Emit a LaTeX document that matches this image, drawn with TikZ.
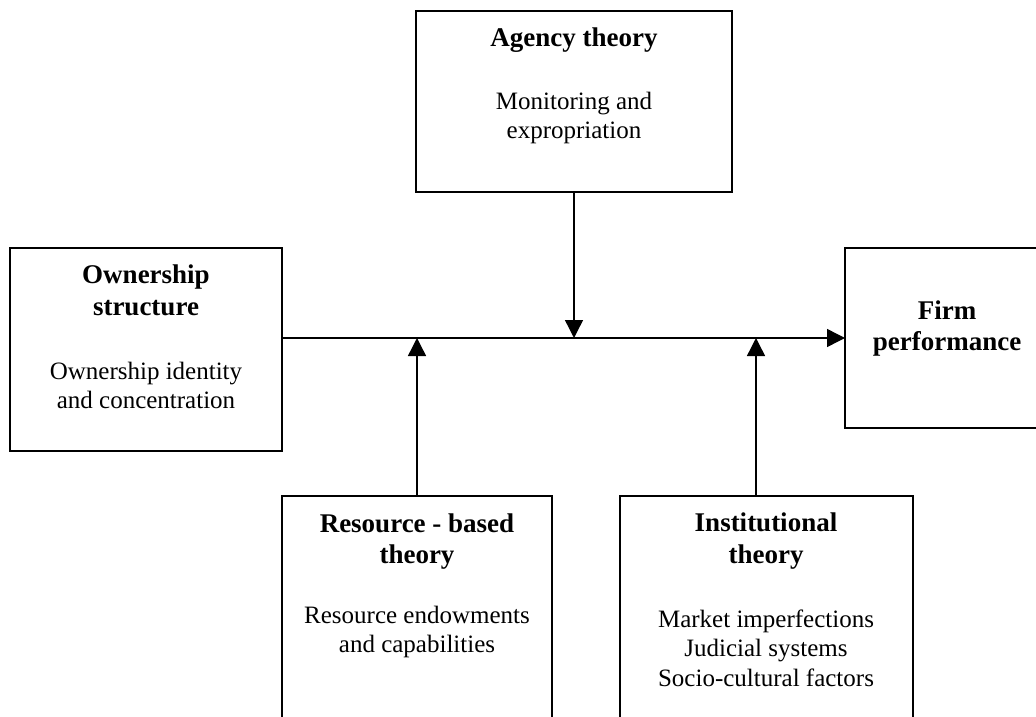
\documentclass[tikz,border=0pt]{standalone}
\usepackage{fontspec}
\setmainfont{Liberation Serif}
\usetikzlibrary{arrows.meta,calc}
\begin{document}
\begin{tikzpicture}[x=1pt,y=-1pt,
  box/.style={draw, line width=1.4pt, rectangle, inner sep=0pt, outer sep=0pt},
  head/.style={anchor=base, inner sep=0pt, font=\fontsize{27}{32}\selectfont\bfseries},
  body/.style={anchor=base, inner sep=0pt, font=\fontsize{25}{29}\selectfont},
  link/.style={line width=1.4pt, -{Triangle[length=18pt,width=18pt]}}]
\useasboundingbox (0,0) rectangle (1036,717);
\clip (0,0) rectangle (1036,717);

% boxes
\node[box, minimum width=316pt, minimum height=181pt] (agency) at (574,101.5) {};
\node[box, minimum width=272pt, minimum height=203pt] (own) at (146,349.5) {};
\node[box, minimum width=204pt, minimum height=180pt] (firm) at (947,338) {};
\node[box, minimum width=270pt, minimum height=264pt] (res) at (417,628) {};
\node[box, minimum width=293pt, minimum height=264pt] (inst) at (766.5,628) {};

% agency theory
\node[head] (agT) at (574,47) {Agency theory};
\node[body] (agB1) at (574,110) {Monitoring and};
\node[body] (agB2) at (574,138) {expropriation};

% ownership structure
\node[head] (owT1) at (146,283) {Ownership};
\node[head] (owT2) at (146,315) {structure};
\node[body] (owB1) at (146,379) {Ownership identity};
\node[body] (owB2) at (146,408) {and concentration};

% firm performance
\node[head] (fpT1) at (947,319) {Firm};
\node[head] (fpT2) at (947,350) {performance};

% resource-based theory
\node[head] (rsT1) at (417,532) {Resource - based};
\node[head] (rsT2) at (417,563) {theory};
\node[body] (rsB1) at (417,623) {Resource endowments};
\node[body] (rsB2) at (417,652) {and capabilities};

% institutional theory
\node[head] (inT1) at (766,531) {Institutional};
\node[head] (inT2) at (766,563) {theory};
\node[body] (inB1) at (766,627) {Market imperfections};
\node[body] (inB2) at (766,656) {Judicial systems};
\node[body] (inB3) at (766,686) {Socio-cultural factors};

% main relation and moderating links
\coordinate (axis) at (0,338);
\coordinate (instx) at (756,338);
\draw[link] (own.east |- axis) -- (firm.west);
\draw[link] (agency.south) -- (agency.south |- axis);
\draw[link] (res.north) -- (res.north |- axis);
\draw[link] (inst.north -| instx) -- (instx);
\end{tikzpicture}
\end{document}
